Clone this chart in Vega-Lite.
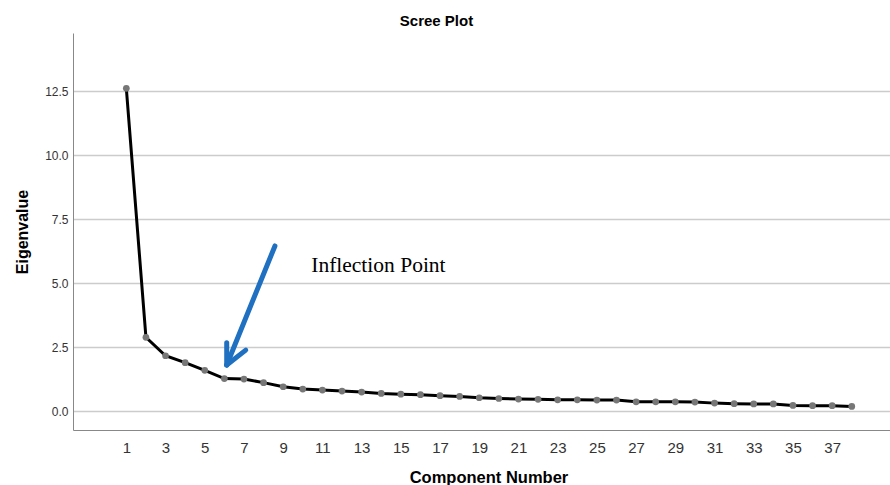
{
  "$schema": "https://vega.github.io/schema/vega-lite/v6.json",
  "width": 817,
  "height": 397,
  "autosize": {"type": "none"},
  "padding": {"left": 73, "top": 33, "right": 0, "bottom": 55},
  "background": "white",
  "config": {"view": {"stroke": null}, "font": "Liberation Sans"},
  "title": {"text": "Scree Plot", "fontSize": 15, "fontWeight": "bold", "font": "Liberation Sans", "color": "#000", "anchor": "middle", "dx": -45, "offset": 4},
  "datasets": {
    "scree": [
      {"component": 1, "eigenvalue": 12.61},
      {"component": 2, "eigenvalue": 2.88},
      {"component": 3, "eigenvalue": 2.16},
      {"component": 4, "eigenvalue": 1.89},
      {"component": 5, "eigenvalue": 1.59},
      {"component": 6, "eigenvalue": 1.27},
      {"component": 7, "eigenvalue": 1.25},
      {"component": 8, "eigenvalue": 1.11},
      {"component": 9, "eigenvalue": 0.95},
      {"component": 10, "eigenvalue": 0.86},
      {"component": 11, "eigenvalue": 0.82},
      {"component": 12, "eigenvalue": 0.78},
      {"component": 13, "eigenvalue": 0.74},
      {"component": 14, "eigenvalue": 0.69},
      {"component": 15, "eigenvalue": 0.66},
      {"component": 16, "eigenvalue": 0.64},
      {"component": 17, "eigenvalue": 0.60},
      {"component": 18, "eigenvalue": 0.57},
      {"component": 19, "eigenvalue": 0.52},
      {"component": 20, "eigenvalue": 0.49},
      {"component": 21, "eigenvalue": 0.47},
      {"component": 22, "eigenvalue": 0.46},
      {"component": 23, "eigenvalue": 0.44},
      {"component": 24, "eigenvalue": 0.44},
      {"component": 25, "eigenvalue": 0.43},
      {"component": 26, "eigenvalue": 0.43},
      {"component": 27, "eigenvalue": 0.36},
      {"component": 28, "eigenvalue": 0.36},
      {"component": 29, "eigenvalue": 0.36},
      {"component": 30, "eigenvalue": 0.35},
      {"component": 31, "eigenvalue": 0.31},
      {"component": 32, "eigenvalue": 0.29},
      {"component": 33, "eigenvalue": 0.28},
      {"component": 34, "eigenvalue": 0.28},
      {"component": 35, "eigenvalue": 0.22},
      {"component": 36, "eigenvalue": 0.21},
      {"component": 37, "eigenvalue": 0.21},
      {"component": 38, "eigenvalue": 0.18}
    ],
    "arrow": [
      {"x": 8.58, "y": 6.45, "x2": 6.12, "y2": 1.80},
      {"x": 6.12, "y": 2.67, "x2": 6.12, "y2": 1.80},
      {"x": 7.09, "y": 2.38, "x2": 6.12, "y2": 1.80}
    ],
    "note": [
      {"x": 10.43, "y": 5.44, "label": "Inflection Point"}
    ]
  },
  "layer": [
    {
      "data": {"name": "scree"},
      "mark": {"type": "line", "color": "#000000", "strokeWidth": 3},
      "encoding": {
        "x": {
          "field": "component", "type": "quantitative",
          "scale": {"domain": [-1.72, 39.95], "nice": false, "zero": false},
          "axis": {
            "title": "Component Number", "titleFontSize": 16.5, "titleFontWeight": "bold", "titleColor": "#000", "titlePadding": 14, "titleX": 415.5,
            "values": [1,3,5,7,9,11,13,15,17,19,21,23,25,27,29,31,33,35,37],
            "labelFontSize": 15, "labelColor": "#333", "labelPadding": 10,
            "ticks": false, "grid": false, "domainColor": "#888", "domainWidth": 1
          }
        },
        "y": {
          "field": "eigenvalue", "type": "quantitative",
          "scale": {"domain": [-0.74, 14.77], "nice": false, "zero": false},
          "axis": {
            "title": "Eigenvalue", "titleFontSize": 16, "titleFontWeight": "bold", "titleColor": "#000", "titlePadding": 14,
            "values": [0, 2.5, 5, 7.5, 10, 12.5], "format": ".1f",
            "labelFontSize": 12, "labelColor": "#333", "labelPadding": 5,
            "ticks": false, "grid": true, "gridColor": "#cccccc", "gridWidth": 1.5,
            "domainColor": "#888", "domainWidth": 1
          }
        }
      }
    },
    {
      "data": {"name": "scree"},
      "mark": {"type": "point", "filled": true, "color": "#777777", "size": 45, "opacity": 1},
      "encoding": {
        "x": {"field": "component", "type": "quantitative"},
        "y": {"field": "eigenvalue", "type": "quantitative"}
      }
    },
    {
      "data": {"name": "arrow"},
      "mark": {"type": "rule", "color": "#1f70c1", "strokeWidth": 5, "strokeCap": "round"},
      "encoding": {
        "x": {"field": "x", "type": "quantitative"},
        "y": {"field": "y", "type": "quantitative"},
        "x2": {"field": "x2"},
        "y2": {"field": "y2"}
      }
    },
    {
      "data": {"name": "note"},
      "mark": {"type": "text", "font": "Liberation Serif", "fontSize": 21.5, "align": "left", "baseline": "alphabetic", "color": "#000"},
      "encoding": {
        "x": {"field": "x", "type": "quantitative"},
        "y": {"field": "y", "type": "quantitative"},
        "text": {"field": "label"}
      }
    }
  ]
}
